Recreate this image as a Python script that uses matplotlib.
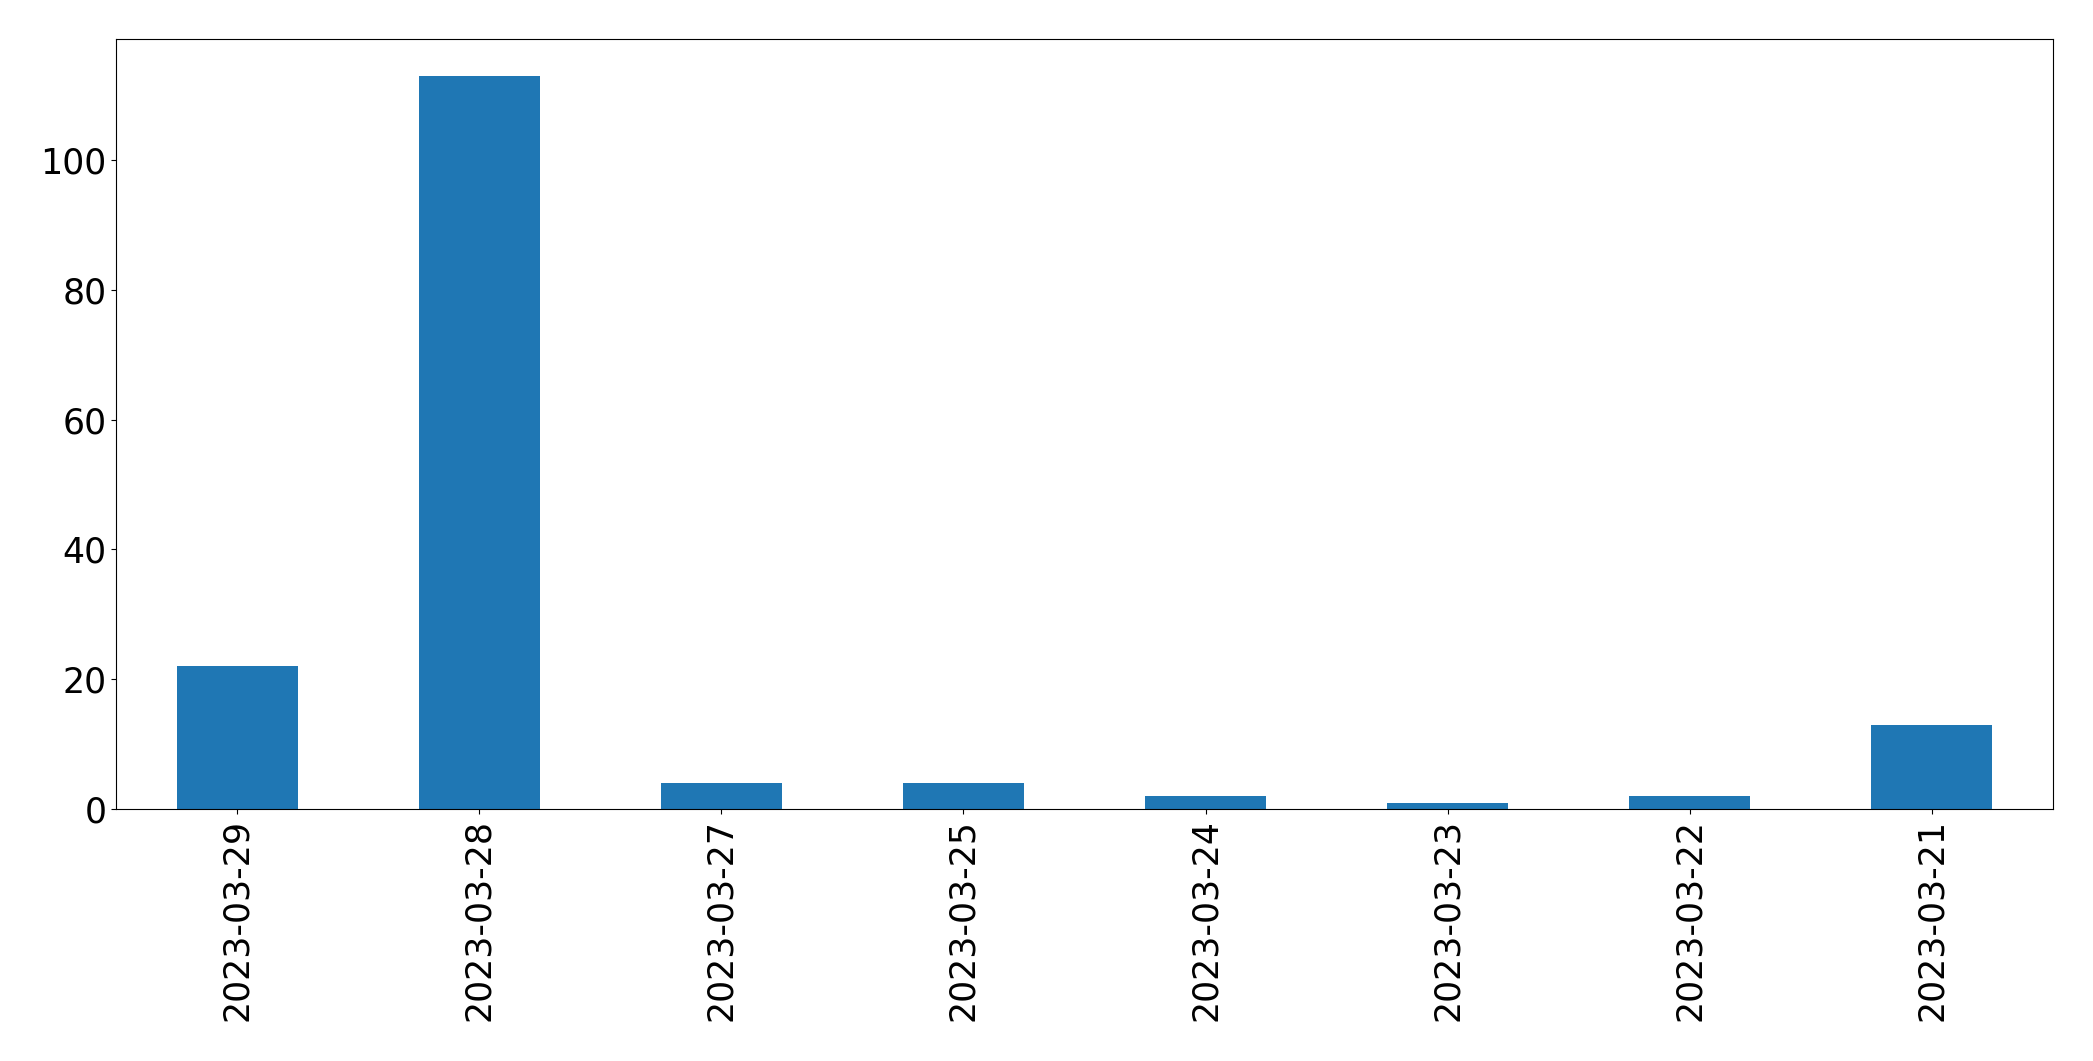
import matplotlib
matplotlib.use('Agg')
import matplotlib.pyplot as plt
import pandas as pd

dates = ['2023-03-29', '2023-03-28', '2023-03-27', '2023-03-25',
         '2023-03-24', '2023-03-23', '2023-03-22', '2023-03-21']
counts = [22, 113, 4, 4, 2, 1, 2, 13]

s = pd.Series(counts, index=dates)

fig = plt.figure(figsize=(20.93, 10.61), dpi=100)
ax = fig.add_axes([116 / 2093, 1 - 809 / 1061, (2053 - 116) / 2093, (809 - 39) / 1061])
s.plot(kind='bar', ax=ax, color='#1f77b4')
ax.tick_params(axis='both', labelsize=25)
fig.savefig('out.png', dpi=100)
